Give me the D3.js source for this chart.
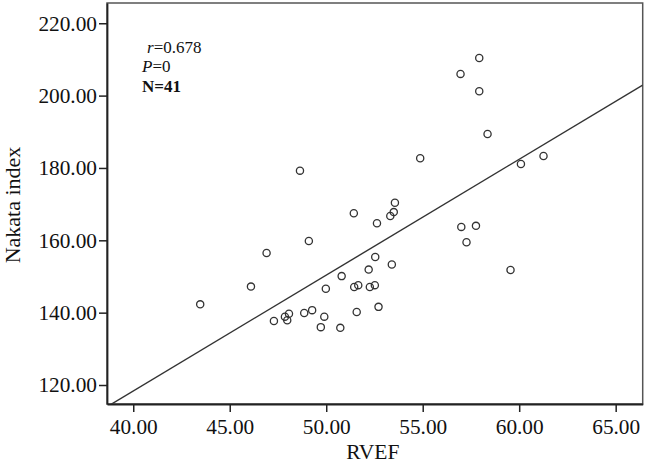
<!DOCTYPE html>
<html>
<head>
<meta charset="utf-8">
<script src="https://cdn.jsdelivr.net/npm/d3@7"></script>
<style>
  html, body { margin: 0; padding: 0; background: #fff; }
  svg { display: block; }
  text { font-family: "Liberation Serif", "Times New Roman", serif; fill: #111; }
</style>
</head>
<body>
<svg id="chart" width="646" height="465"></svg>
<script>
// RVEF (x) values
const rvef = [
  48.64, 57.93, 56.96, 57.93, 58.36, 54.87, 60.09, 61.26, 53.56, 53.32,
  53.50, 51.43, 52.63, 57.00, 57.76, 57.27, 59.55, 52.54, 53.40, 52.20,
  50.80, 49.98, 51.45, 51.66, 52.26, 52.52, 52.71, 51.58, 49.90, 49.72,
  50.73, 49.10, 46.91, 46.10, 43.47, 47.29, 47.86, 48.07, 47.98, 48.86,
  49.27
];
// Nakata index (y) values
const nakata = [
  179.25, 210.4, 206.0, 201.2, 189.4, 182.7, 181.1, 183.3, 170.4, 166.7,
  167.8, 167.5, 164.7, 163.7, 164.0, 159.45, 151.8, 155.4, 153.3, 151.9,
  150.1, 146.6, 147.1, 147.6, 147.1, 147.6, 141.6, 140.2, 138.9, 136.0,
  135.8, 159.8, 156.5, 147.2, 142.3, 137.7, 138.9, 139.7, 137.9, 139.9,
  140.7
];
const xTicks = [40, 45, 50, 55, 60, 65];
const yTicks = [120, 140, 160, 180, 200, 220];
const xDomain = [38.64, 66.4];
const yDomain = [114.75, 225.6];
// fit line: y = slope * x + intercept
const fitSlope = 3.203;
const fitIntercept = -9.78;
const statsLines = [
  { label: "r", value: "=0.678", italic: true, bold: false },
  { label: "P", value: "=0", italic: true, bold: false },
  { label: "N", value: "=41", italic: false, bold: true }
];

const svg = d3.select("#chart");
const L = 107, R = 642.7, T = 3, B = 404;
const x = d3.scaleLinear().domain(xDomain).range([L, R]);
const y = d3.scaleLinear().domain(yDomain).range([B, T]);
const ink = "#333";

svg.append("defs").append("clipPath").attr("id", "plotclip")
  .append("rect").attr("x", L).attr("y", T).attr("width", R - L).attr("height", B - T);

// frame
svg.append("rect").attr("x", L).attr("y", T).attr("width", R - L).attr("height", B - T)
  .attr("fill", "none").attr("stroke", "#555").attr("stroke-width", 1.5);

// axes
const fmt = d3.format(".2f");
const yAxis = svg.append("g").attr("transform", `translate(${L},0)`)
  .call(d3.axisLeft(y).tickValues(yTicks).tickFormat(fmt).tickSize(8).tickSizeOuter(0).tickPadding(2));
const xAxis = svg.append("g").attr("transform", `translate(0,${B})`)
  .call(d3.axisBottom(x).tickValues(xTicks).tickFormat(fmt).tickSize(8).tickSizeOuter(0).tickPadding(7));
[yAxis, xAxis].forEach(g => {
  g.select(".domain").attr("stroke", "#222").attr("stroke-width", 1.8);
  g.selectAll(".tick line").attr("stroke", "#222").attr("stroke-width", 1.5);
  g.selectAll(".tick text").attr("font-family", "Liberation Serif, serif")
    .attr("font-size", 21.3).attr("fill", "#111");
});

// fit line
svg.append("line")
  .attr("clip-path", "url(#plotclip)")
  .attr("x1", x(xDomain[0])).attr("y1", y(fitSlope * xDomain[0] + fitIntercept))
  .attr("x2", x(xDomain[1])).attr("y2", y(fitSlope * xDomain[1] + fitIntercept))
  .attr("stroke", ink).attr("stroke-width", 1.4);

// points
svg.append("g").selectAll("circle")
  .data(rvef.map((v, i) => [v, nakata[i]]))
  .join("circle")
  .attr("cx", d => x(d[0])).attr("cy", d => y(d[1])).attr("r", 3.6)
  .attr("fill", "none").attr("stroke", ink).attr("stroke-width", 1.3);

// stats annotation
const st = svg.append("g");
statsLines.forEach((s, i) => {
  const t = st.append("text").attr("x", i === 0 ? 147 : 142).attr("y", 52.5 + i * 19.5)
    .attr("font-size", 17).attr("font-weight", s.bold ? "bold" : "normal");
  t.append("tspan").attr("font-style", s.italic ? "italic" : "normal").text(s.label);
  t.append("tspan").text(s.value);
});

// axis titles
svg.append("text").attr("x", (L + R) / 2 - 2).attr("y", 459)
  .attr("text-anchor", "middle").attr("font-size", 21.5).text("RVEF");
svg.append("text").attr("transform", "translate(20,205) rotate(-90)")
  .attr("text-anchor", "middle").attr("font-size", 22).text("Nakata index");
</script>
</body>
</html>
